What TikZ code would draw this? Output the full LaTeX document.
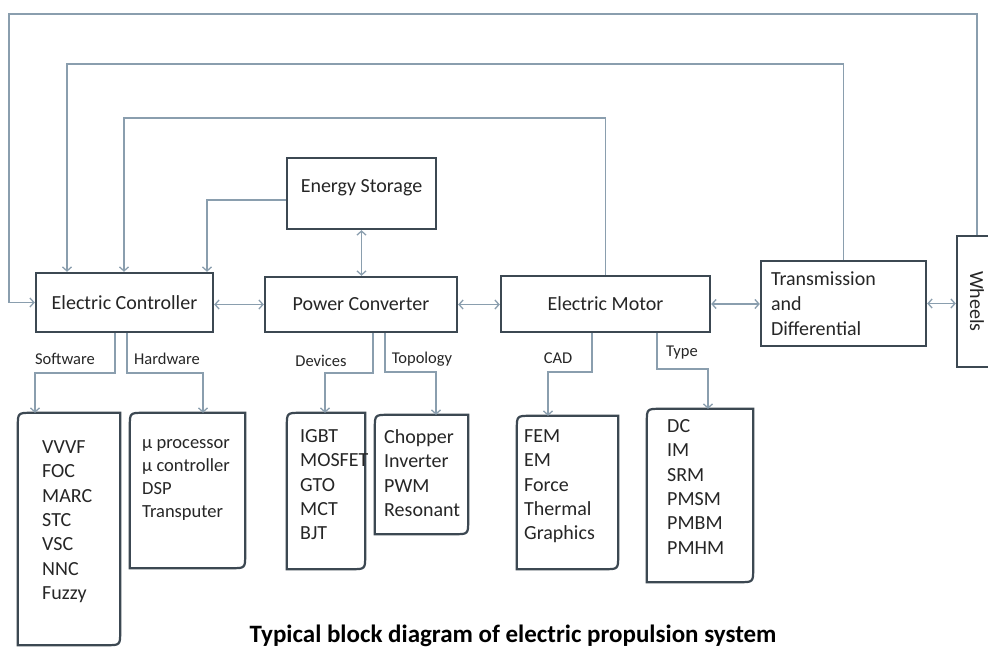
\documentclass[tikz,border=0pt]{standalone}
\usepackage{fontspec}
\setmainfont{Carlito}
\usepackage{graphicx}
\usepackage{xcolor}
\usepackage{tikz}
\usetikzlibrary{arrows.meta,positioning}

\definecolor{framecol}{RGB}{60,72,82}
\definecolor{linecol}{RGB}{138,158,174}
\definecolor{txtcol}{RGB}{38,38,38}

\newcommand{\mainfs}{\fontsize{20}{25}\selectfont}
\newcommand{\listfs}{\fontsize{20}{24.3}\selectfont}
\newcommand{\tagfs}{\fontsize{16.5}{20}\selectfont}
\newcommand{\titlefs}{\fontsize{25}{30}\selectfont\bfseries}

\newcommand{\drawlist}[1]{%
  \draw[listline] ([yshift=-14pt]#1.north west) .. controls (#1.north west) .. ([xshift=14pt]#1.north west)
    -- (#1.north east) -- ([yshift=14pt]#1.south east) .. controls (#1.south east) .. ([xshift=-14pt]#1.south east)
    -- (#1.south west) -- cycle;}

\begin{document}
\begin{tikzpicture}[x=1pt, y=-1pt,
    block/.style={draw=framecol, line width=2.4pt, text=txtcol, font=\mainfs, inner sep=0pt},
    listframe/.style={inner sep=0pt},
    listline/.style={draw=framecol, line width=2.2pt},
    listtext/.style={text=txtcol, font=\listfs, align=left, inner sep=0pt, anchor=north west},
    tag/.style={text=txtcol, font=\tagfs, inner sep=0pt},
    conn/.style={draw=linecol, line width=1.3pt},
    arr/.style={conn, -{Straight Barb[length=4pt,width=9pt]}},
    biarr/.style={conn, {Straight Barb[length=4pt,width=9pt]}-{Straight Barb[length=4pt,width=9pt]}}]

\fill[white] (0,0) rectangle (988,650);
\useasboundingbox (0,0) rectangle (988,650);

% main chain
\node[block, minimum width=177pt, minimum height=59pt] (ctrl) at (124.5,302.5) {Electric Controller};
\node[block, minimum width=149pt, minimum height=71pt, text height=14pt, text depth=15pt] (store) at (361.5,193.5) {Energy Storage};
\node[block, minimum width=192pt, minimum height=55pt] (conv) at (361,304.5) {Power Converter};
\node[block, minimum width=209pt, minimum height=56pt] (motor) at (605.5,304) {Electric Motor};
\node[block, minimum width=165pt, minimum height=85pt, text width=145pt, align=left] (trans) at (843.5,303.5) {Transmission\\and\\Differential};
\node[block, minimum width=40pt, minimum height=131pt] (wheels) at (977,301.5) {\rotatebox{-90}{Wheels}};

% feedback loops
\coordinate (outerL) at (9,14);
\coordinate (midL) at (67,64);
\coordinate (innL) at (124,118);
\draw[arr] (wheels.north) |- (outerL) |- (ctrl.west);
\draw[arr] (trans.north) |- (midL) -- (midL |- ctrl.north);
\draw[arr] (motor.north) |- (innL) -- (innL |- ctrl.north);
\draw[arr] ([yshift=-6.5pt]store.west) -| ([xshift=82.5pt]ctrl.north);

\draw[biarr] (store.south) -- (store.south |- conv.north);
\draw[biarr] (conv.west -| ctrl.east) -- (conv.west);
\draw[biarr] (conv.east) -- (conv.east -| motor.west);
\draw[biarr] (motor.east) -- (motor.east -| trans.west);
\draw[biarr] (trans.east) -- (trans.east -| wheels.west);

% list boxes
\node[listframe, minimum width=102pt, minimum height=232pt] (soft) at (69,529) {};
\node[listframe, minimum width=115pt, minimum height=155pt] (hard) at (187.5,490.5) {};
\node[listframe, minimum width=78pt, minimum height=156pt] (dev) at (326,491) {};
\node[listframe, minimum width=93pt, minimum height=119pt] (topo) at (421.5,474.5) {};
\node[listframe, minimum width=101pt, minimum height=153pt] (cad) at (567.5,492.5) {};
\node[listframe, minimum width=106pt, minimum height=173pt] (mtype) at (700,495.5) {};
\drawlist{soft}
\drawlist{hard}
\drawlist{dev}
\drawlist{topo}
\drawlist{cad}
\drawlist{mtype}

\node[listtext] (soft-t) at (42,440.5) {VVVF\\FOC\\MARC\\STC\\VSC\\NNC\\Fuzzy};
\node[listtext, font=\fontsize{18.5}{23}\selectfont] (hard-t) at (142,439.5) {µ processor\\µ controller\\DSP\\Transputer};
\node[listtext] (dev-t) at (300,429.5) {IGBT\\MOSFET\\GTO\\MCT\\BJT};
\node[listtext] (topo-t) at (384,429.5) {Chopper\\Inverter\\PWM\\Resonant};
\node[listtext] (cad-t) at (524,429.5) {FEM\\EM\\Force\\Thermal\\Graphics};
\node[listtext] (mtype-t) at (667,419.5) {DC\\IM\\SRM\\PMSM\\PMBM\\PMHM};

% branches
\draw[arr] ([xshift=-9.5pt]ctrl.south) |- (35,373) -- (35,0 |- soft.north);
\draw[arr] ([xshift=2.5pt]ctrl.south) |- (203,373) -- (203,0 |- hard.north);
\draw[arr] ([xshift=12pt]conv.south) |- (325,373) -- (325,0 |- dev.north);
\draw[arr] ([xshift=24pt]conv.south) |- (436,372) -- (436,0 |- topo.north);
\draw[arr] ([xshift=-13.5pt]motor.south) |- (548,372) -- (548,0 |- cad.north);
\draw[arr] ([xshift=51.5pt]motor.south) |- (708,369) -- (708,0 |- mtype.north);

\node[tag] (sw) at (65,359) {Software};
\node[tag] (hw) at (167,359) {Hardware};
\node[tag] (devl) at (321,361) {Devices};
\node[tag] (topl) at (422,359) {Topology};
\node[tag] (cadl) at (558,358) {CAD};
\node[tag] (typel) at (682,353) {Type};

\node[font=\titlefs, text=black, anchor=base, inner sep=0pt] (title) at (513,642) {Typical block diagram of electric propulsion system};
\end{tikzpicture}
\end{document}
